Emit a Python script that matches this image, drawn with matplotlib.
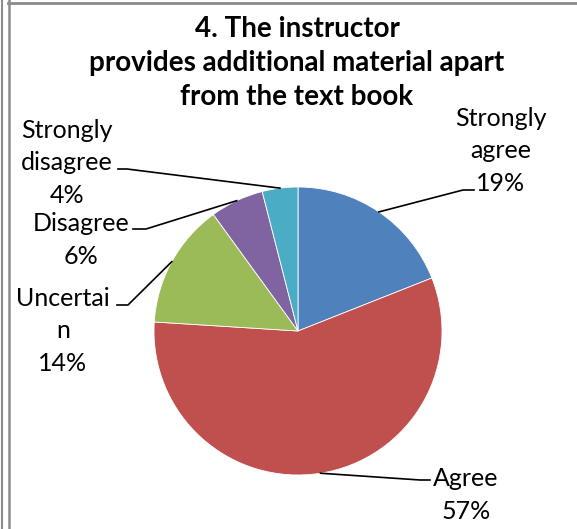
import matplotlib
matplotlib.use("Agg")
import numpy as np
import matplotlib.pyplot as plt

# data
labels = ["Strongly\nagree", "Agree", "Uncertai\nn", "Disagree", "Strongly\ndisagree"]
values = [19, 57, 14, 6, 4]
colors = ["#4F81BD", "#C0504D", "#9BBB59", "#8064A2", "#4BACC6"]
title = "4. The instructor\nprovides additional material apart\nfrom the text book"

plt.rcParams['font.family'] = ['Lato', 'DejaVu Sans']

W, H = 577, 529
fig = plt.figure(figsize=(W / 100, H / 100), dpi=100)
ax = fig.add_axes([0, 0, 1, 1])

# pixel-style coordinates, y pointing down
cx, cy, r = 298, 331, 144
wedges, _ = ax.pie(values, colors=colors, startangle=-90, counterclock=True,
                   center=(cx, cy), radius=r, frame=True,
                   wedgeprops=dict(linewidth=0.6, edgecolor="white"))
ax.set_xlim(0, W)
ax.set_ylim(H, 0)
ax.axis('off')

# label layout: (text centre, elbow, line end)
layout = [
    ((501, 151), (463, 190), (474, 190)),
    ((466, 495), (420, 480), (430, 480)),
    ((63, 331), (128, 305), (117, 305)),
    ((81, 240), (146, 229), (133, 229)),
    ((67, 163), (127, 169), (118, 169)),
]

total = sum(values)
for w, lab, v, (txt, elbow, end) in zip(wedges, labels, values, layout):
    mid = np.deg2rad((w.theta1 + w.theta2) / 2)
    px = w.center[0] + w.r * np.cos(mid)
    py = w.center[1] + w.r * np.sin(mid)
    ax.plot([px, elbow[0], end[0]], [py, elbow[1], end[1]], color="black", lw=1.2)
    ax.text(txt[0], txt[1], "%s\n%d%%" % (lab, round(100 * v / total)),
            ha="center", va="center", fontsize=18, linespacing=1.52)

ax.text(297, 63, title, ha="center", va="center", fontsize=20,
        fontweight="bold", linespacing=1.38)

# chart frame
frame_col = "#8c8c8c"
ax.plot([1.5, 1.5], [0, H], color=frame_col, lw=1.5, clip_on=False)
ax.plot([8.5, 8.5], [0, H], color=frame_col, lw=1.8, clip_on=False)
ax.plot([8, W], [3, 3], color=frame_col, lw=2, clip_on=False)

fig.savefig("out.png", dpi=100)
